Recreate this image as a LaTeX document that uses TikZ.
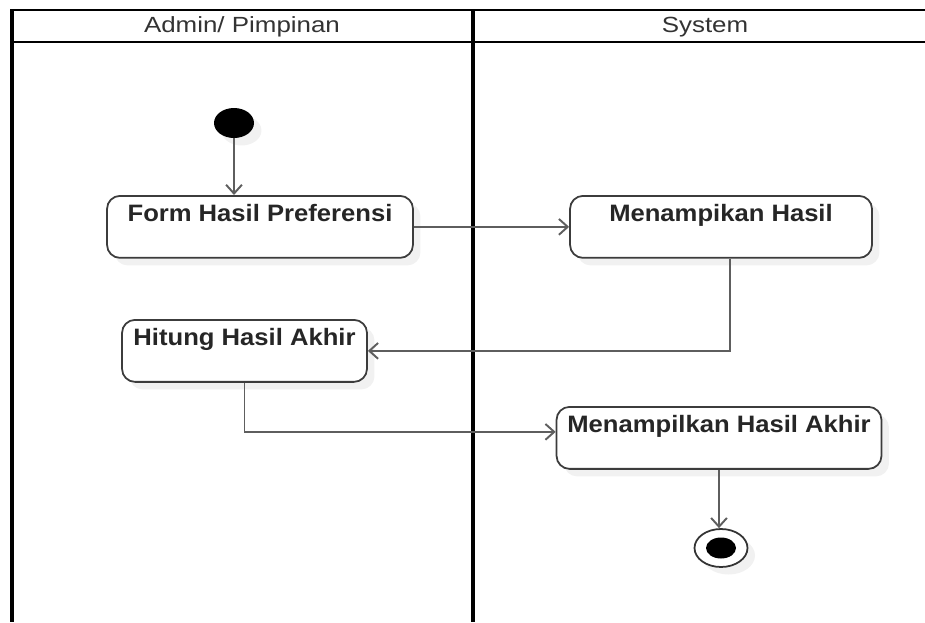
\documentclass[tikz,border=0pt]{standalone}
\usepackage{fontspec}
\setmainfont{Liberation Sans}
\newfontfamily\actfont[FakeStretch=1.08]{Liberation Sans}
\newfontfamily\lanefont[FakeStretch=1.18]{Liberation Sans}
\usetikzlibrary{shapes.geometric,shadows,arrows.meta}
\definecolor{flowgray}{HTML}{5E5E5E}
\definecolor{boxgray}{HTML}{3C3C3C}
\begin{document}
\begin{tikzpicture}[x=0.02cm,y=-0.02cm,
  shade/.style={drop shadow={shadow xshift=0.15cm,shadow yshift=-0.15cm,fill=black!11}},
  act/.style={draw=boxgray,line width=1pt,rounded corners=0.26cm,fill=white,shade,
    inner xsep=0pt,inner ysep=0pt,text height=0.52cm,text depth=0.72cm,anchor=north,
    font=\actfont\bfseries\fontsize{13.5}{16}\selectfont,text=black!85},
  lane/.style={font=\lanefont\fontsize{12.5}{15}\selectfont,text=black!80},
  flow/.style={draw=flowgray,line width=1.1pt,-{Straight Barb[length=5pt,width=9pt]}}]
\useasboundingbox (0,0) rectangle (925,622);
% swimlanes
\draw [line width=1.5pt] (12,10) -- (925,10);
\draw [line width=1.5pt] (12,42) -- (925,42);
\draw [line width=2.6pt] (12,9) -- (12,622);
\draw [line width=2.6pt] (473,9) -- (473,622);
\node[lane] (admin) at (242,27) {Admin/ Pimpinan};
\node[lane] (system) at (705,27) {System};
% activities
\node[ellipse,fill=black,minimum width=0.8cm,minimum height=0.6cm,inner sep=0pt,shade] (start) at (234,123) {};
\node[act,minimum width=6.12cm] (form) at (260,195) {Form Hasil Preferensi};
\node[act,minimum width=6.04cm] (tampil) at (721,195) {Menampikan Hasil};
\node[act,minimum width=4.9cm] (hitung) at (244.5,319) {Hitung Hasil Akhir};
\node[act,minimum width=6.5cm] (akhir) at (719,406) {Menampilkan Hasil Akhir};
\node[ellipse,draw=black!80,line width=1pt,fill=white,minimum width=1.06cm,minimum height=0.76cm,inner sep=0pt,shade] (stop) at (721,548) {};
\node[ellipse,fill=black,minimum width=0.6cm,minimum height=0.42cm,inner sep=0pt] (stopdot) at (stop.center) {};
% flows
\draw[flow] (start.south) -- (start.south |- form.north);
\draw[flow] (form.east) -- (tampil.west);
\draw[flow] ([xshift=0.18cm]tampil.south) |- (hitung.east);
\draw[flow] (hitung.south) |- ([yshift=0.12cm]akhir.west);
\draw[flow] (akhir.south) -- (akhir.south |- stop.north);
\end{tikzpicture}
\end{document}
